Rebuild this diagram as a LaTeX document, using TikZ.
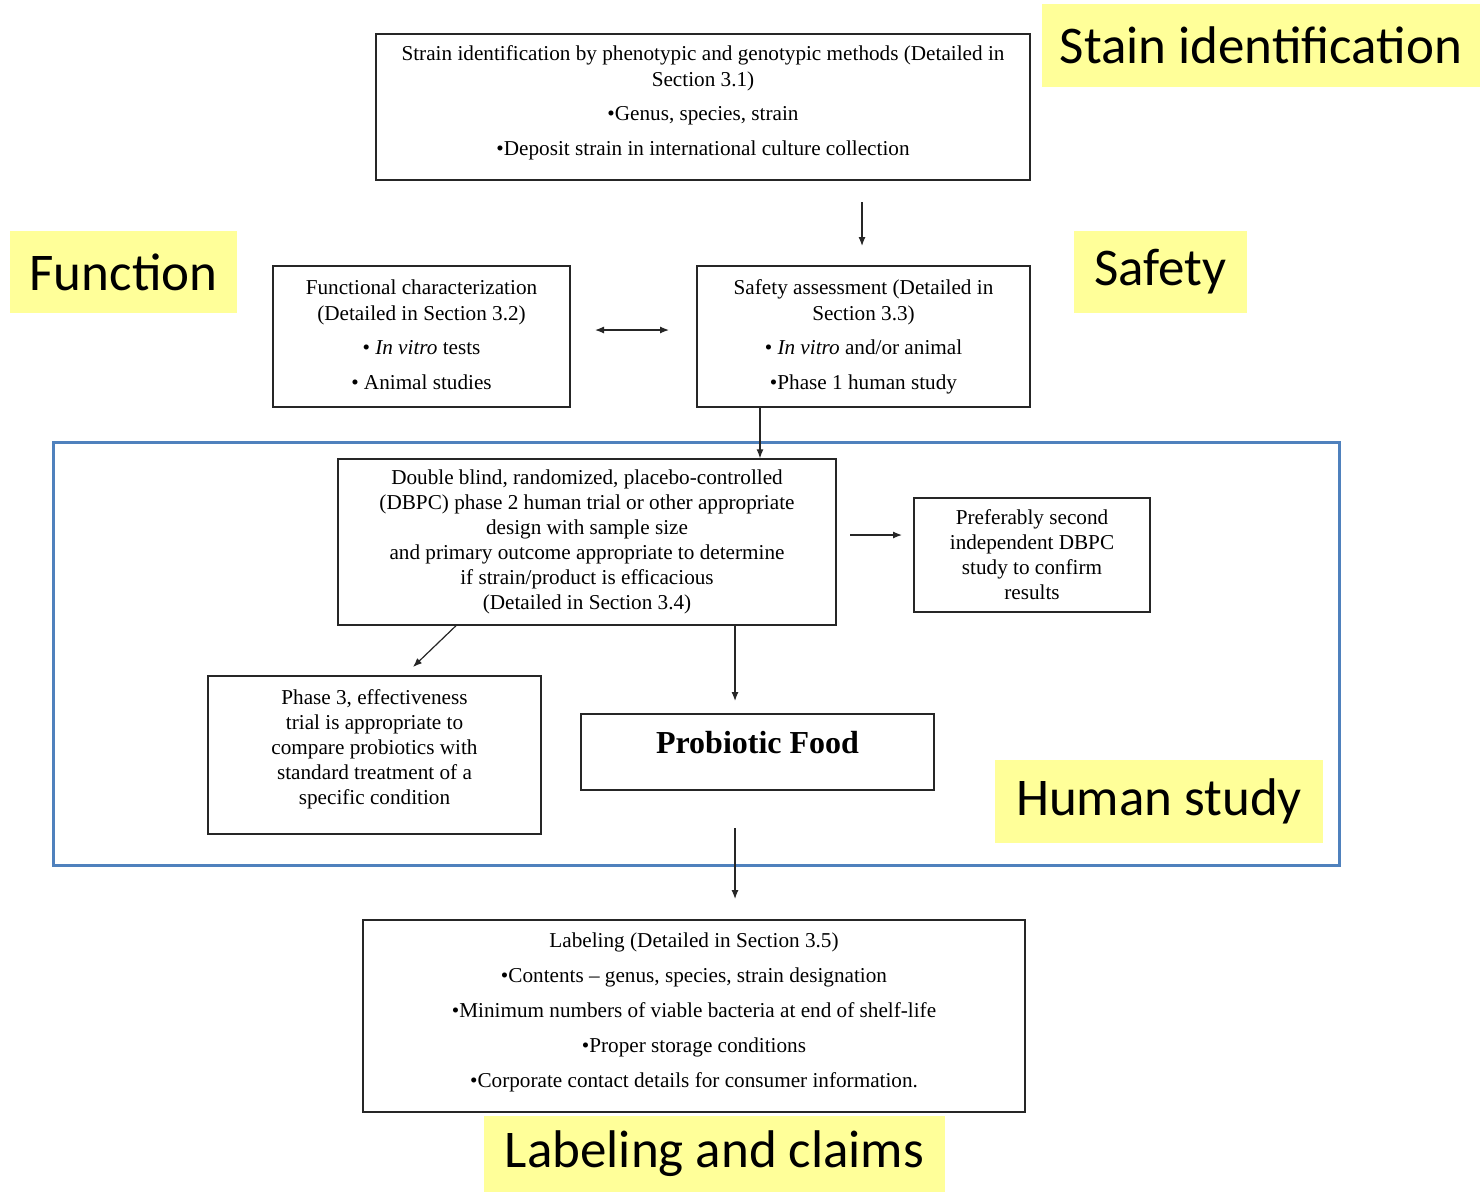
\documentclass[tikz,border=0pt]{standalone}
\usepackage{fontspec}
\setmainfont{Liberation Serif}
\newfontfamily\tagfont{Carlito}
\usetikzlibrary{arrows.meta}
\definecolor{tagyellow}{RGB}{255,255,153}
\definecolor{groupblue}{RGB}{79,129,189}
\begin{document}
\begin{tikzpicture}[x=1pt,y=-1pt,
  box/.style={draw=black!85, line width=1.4pt, rectangle, inner sep=0pt},
  txt/.style={align=center, inner sep=0pt, font=\fontsize{21.2}{25}\selectfont},
  tag/.style={fill=tagyellow, inner sep=0pt, font=\tagfont\fontsize{53}{58}\selectfont},
  flow/.style={line width=1.2pt, black!85, -{Latex[length=9pt,width=7pt]}},
  dflow/.style={line width=1.2pt, black!85, {Latex[length=9pt,width=7pt]}-{Latex[length=9pt,width=7pt]}}]
\useasboundingbox (0,0) rectangle (1480,1192);
\fill[white] (0,0) rectangle (1480,1192);

% grouping frame for the human trials
\node[draw=groupblue, line width=3pt, minimum width=1286pt, minimum height=423pt, inner sep=0pt] (human) at (696,653.5) {};

% process boxes
\node[box, minimum width=654pt, minimum height=146pt] (strain) at (703,107) {};
\node[txt] (straint) at ([yshift=4pt]strain.center) {Strain identification by phenotypic and genotypic methods (Detailed in\\[1pt]Section 3.1)\\[9pt]\textbullet Genus, species, strain\\[10pt]\textbullet Deposit strain in international culture collection};

\node[box, minimum width=297pt, minimum height=141pt] (func) at (421.5,336.5) {};
\node[txt] (funct) at ([yshift=2pt]func.center) {Functional characterization\\[1pt](Detailed in Section 3.2)\\[9pt]\textbullet\ \textit{In vitro} tests\\[10pt]\textbullet\ Animal studies};

\node[box, minimum width=333pt, minimum height=141pt] (safety) at (863.5,336.5) {};
\node[txt] (safetyt) at (safety.center) {Safety assessment (Detailed in\\[1pt]Section 3.3)\\[9pt]\textbullet\ \textit{In vitro} and/or animal\\[10pt]\textbullet Phase 1 human study};

\node[box, minimum width=498pt, minimum height=166pt] (dbpc) at (587,542) {};
\node[txt] (dbpct) at (dbpc.center) {Double blind, randomized, placebo-controlled\\(DBPC) phase 2 human trial or other appropriate\\design with sample size\\and primary outcome appropriate to determine\\if strain/product is efficacious\\(Detailed in Section 3.4)};

\node[box, minimum width=236pt, minimum height=114pt] (second) at (1032,555) {};
\node[txt] (secondt) at (second.center) {Preferably second\\independent DBPC\\study to confirm\\results};

\node[box, minimum width=333pt, minimum height=158pt] (phase) at (374.5,755) {};
\node[txt] (phaset) at ([yshift=6pt]phase.center) {Phase 3, effectiveness\\trial is appropriate to\\compare probiotics with\\standard treatment of a\\specific condition};

\node[box, minimum width=353pt, minimum height=76pt] (food) at (757.5,752) {};
\node[font=\fontsize{32}{36}\selectfont\bfseries, inner sep=0pt] (foodt) at ([yshift=9pt]food.center) {Probiotic Food};

\node[box, minimum width=662pt, minimum height=192pt] (label) at (694,1016) {};
\node[txt] (labelt) at ([yshift=4pt]label.center) {Labeling (Detailed in Section 3.5)\\[10pt]\textbullet Contents -- genus, species, strain designation\\[10pt]\textbullet Minimum numbers of viable bacteria at end of shelf-life\\[10pt]\textbullet Proper storage conditions\\[10pt]\textbullet Corporate contact details for consumer information.};

% category tags
\node[tag, minimum width=438pt, minimum height=83pt] (tagstrain) at (1261,45.5) {Stain identification};
\node[tag, minimum width=227pt, minimum height=82pt] (tagfunc) at (123.5,272) {Function};
\node[tag, minimum width=173pt, minimum height=82pt] (tagsafety) at (1160.5,272) {Safety};
\node[tag, minimum width=328pt, minimum height=83pt] (taghuman) at (1159,801.5) {Human study};
\node[tag, minimum width=461pt, minimum height=76pt] (taglabel) at (714.5,1154) {Labeling and claims};

% connectors
\coordinate (a1s) at (862,202);
\coordinate (a1e) at (862,246);
\draw[flow] (a1s) -- (a1e);

\coordinate (dls) at (595,330);
\coordinate (dle) at (669,330);
\draw[dflow] (dls) -- (dle);

\draw[flow] (safety.south -| 760,0) -- (dbpc.north -| 760,0);

\coordinate (rs) at (850,535);
\coordinate (re) at (902,535);
\draw[flow] (rs) -- (re);

\draw[flow] (dbpc.south -| 456,0) -- (413,667);

\coordinate (fe) at (735,701);
\draw[flow] (dbpc.south -| 735,0) -- (fe);

\coordinate (ls) at (735,828);
\coordinate (le) at (735,899);
\draw[flow] (ls) -- (le);
\end{tikzpicture}
\end{document}
